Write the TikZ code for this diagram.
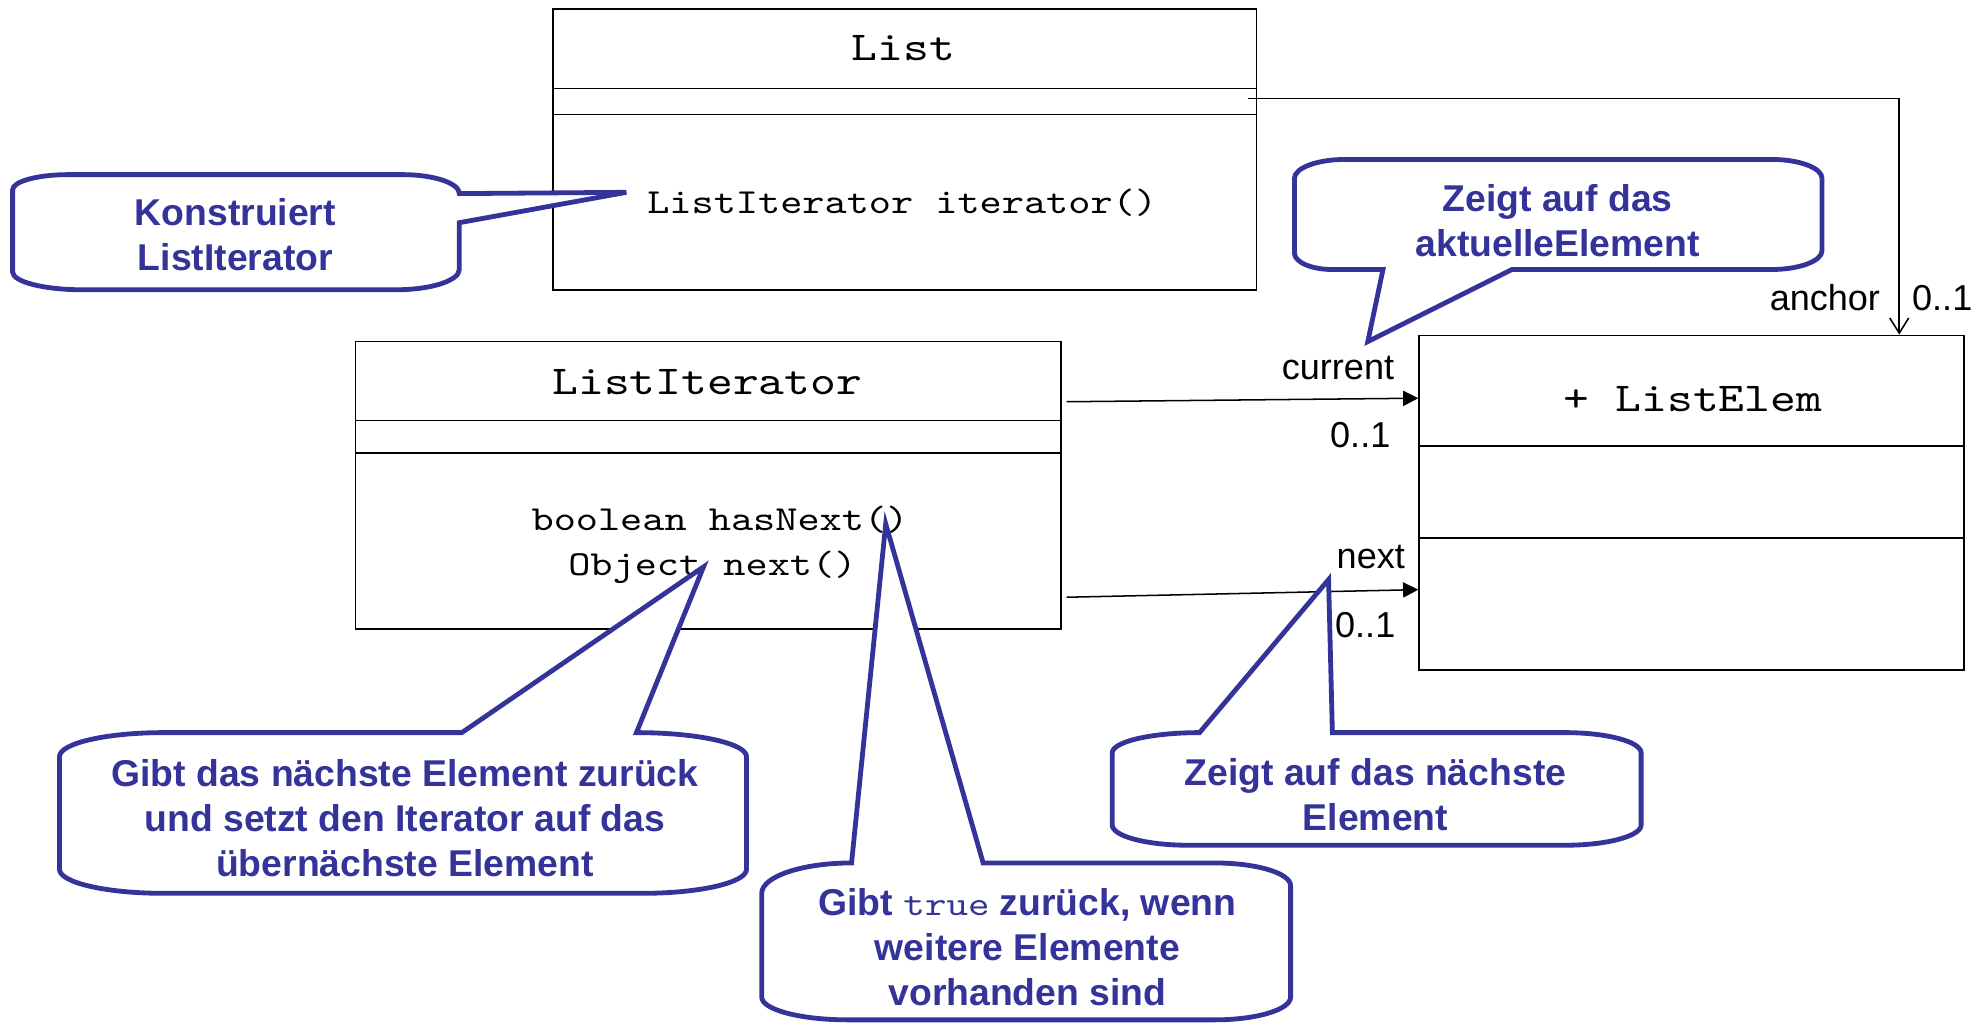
\documentclass[tikz,border=0pt]{standalone}
\usepackage{fontspec}
\setmainfont{Liberation Sans}
% a light typewriter face, widened to Courier proportions
\newfontfamily\monofont{lmmono10-regular.otf}[FakeStretch=1.2]
\usetikzlibrary{arrows.meta}
\definecolor{callblue}{RGB}{51,51,153}
\tikzset{
  umlbox/.style={draw=black, line width=1.2pt, inner sep=0pt},
  umlline/.style={draw=black, line width=1.2pt},
  umltitle/.style={font=\monofont\fontsize{32.4}{38}\selectfont, inner sep=0pt, anchor=base},
  umlmember/.style={font=\monofont\fontsize{27.8}{35.5}\selectfont, inner sep=0pt, anchor=base},
  rolelabel/.style={font=\fontsize{28.5}{34}\selectfont, inner sep=0pt},
  assoc/.style={draw=black, line width=1.2pt},
  callout/.style={draw=callblue, line width=3.8pt, fill=white, line join=miter},
  % the base anchor of a multi-line note sits on its last line
  callouttext/.style={text=callblue, font=\bfseries\fontsize{29.5}{35.5}\selectfont,
    align=center, inner sep=0pt, anchor=base},
}
\begin{document}
\begin{tikzpicture}[x=1pt, y=-1pt]
\useasboundingbox (0,0) rectangle (1568,809);

% --- classes ---
\node[umlbox, minimum width=556pt, minimum height=222pt] (list) at (715,118) {};
\draw[umlline] (list.west |- 0,70) -- (list.east |- 0,70);
\draw[umlline] (list.west |- 0,90.5) -- (list.east |- 0,90.5);
\node[umltitle] (listname) at (714,48) {List};
\node[umlmember] (listop) at (713,168.6) {ListIterator iterator()};

\node[umlbox, minimum width=557.5pt, minimum height=227pt] (iter) at (559.75,383.5) {};
\draw[umlline] (iter.west |- 0,332.5) -- (iter.east |- 0,332.5);
\draw[umlline] (iter.west |- 0,358) -- (iter.east |- 0,358);
\node[umltitle] (itername) at (559,311.5) {ListIterator};
\node[umlmember] (iterop1) at (569,419) {boolean hasNext()};
\node[umlmember] (iterop2) at (563,454.6) {Object next()};

\node[umlbox, minimum width=430.5pt, minimum height=264.5pt] (elem) at (1336.75,397.25) {};
\draw[umlline] (elem.west |- 0,352.5) -- (elem.east |- 0,352.5);
\draw[umlline] (elem.west |- 0,425) -- (elem.east |- 0,425);
\node[umltitle] (elemname) at (1338,325.6) {+ ListElem};

% --- associations ---
\coordinate (ancS) at (986,78);
\coordinate (ancB) at (1501,78);
\draw[assoc, -{Straight Barb[length=12pt,width=15pt]}] (ancS) -- (ancB) -- (ancB |- elem.north);
\coordinate (curS) at (843,317.5);
\draw[assoc, -{Triangle[length=12pt,width=12pt]}] (curS) -- (elem.west |- 0,314.7);
\coordinate (nxtS) at (843,472);
\draw[assoc, -{Triangle[length=12pt,width=12pt]}] (nxtS) -- (elem.west |- 0,466);

\node[rolelabel, anchor=base east] (lblanc) at (1486,245) {anchor};
\node[rolelabel, anchor=base west] (mulanc) at (1511,245) {0..1};
\node[rolelabel, anchor=base east] (lblcur) at (1102,300) {current};
\node[rolelabel, anchor=base east] (mulcur) at (1099,354) {0..1};
\node[rolelabel, anchor=base east] (lblnext) at (1110.5,449) {next};
\node[rolelabel, anchor=base west] (mulnext) at (1055,504) {0..1};

% --- notes ---
\draw[callout] (10,150) .. controls (10,143.4) and (29.7,138) .. (54,138)
  -- (318,138) .. controls (342.8,138) and (363,144.7) .. (363,153)
  -- (495,152) -- (363,176)
  -- (363,213) .. controls (363,221.8) and (340.6,229) .. (313,229)
  -- (65,229) .. controls (34.6,229) and (10,222.7) .. (10,215) -- cycle;
\node[callouttext] (note1) at (186,214) {Konstruiert\\ListIterator};

\draw[callout] (1023,141) .. controls (1023,132.7) and (1040.9,126) .. (1063,126)
  -- (1400,126) .. controls (1422.1,126) and (1440,132.7) .. (1440,141)
  -- (1440,198) .. controls (1440,206.3) and (1422.1,213) .. (1400,213)
  -- (1195,213) -- (1081,270) -- (1093,213)
  -- (1053,213) .. controls (1036.4,213) and (1023,207.2) .. (1023,200) -- cycle;
\node[callouttext] (note2) at (1231,202.4) {Zeigt auf das\\aktuelleElement};

\draw[callout] (47,598) .. controls (47,587.5) and (83.7,579) .. (129,579)
  -- (365,579) -- (556,448) -- (503,579)
  .. controls (551,579) and (590,587.5) .. (590,598)
  -- (590,687) .. controls (590,697.5) and (553.3,706) .. (508,706)
  -- (129,706) .. controls (83.7,706) and (47,697.5) .. (47,687) -- cycle;
\node[callouttext] (note3) at (320,692.9) {Gibt das nächste Element zurück\\und setzt den Iterator auf das\\übernächste Element};

\draw[callout] (602,706) .. controls (602,692.8) and (633.8,682) .. (673,682)
  -- (700,414) -- (777,682)
  -- (960,682) .. controls (993.1,682) and (1020,690.1) .. (1020,700)
  -- (1020,788) .. controls (1020,797.9) and (993.1,806) .. (960,806)
  -- (670,806) .. controls (632.5,806) and (602,797.9) .. (602,788) -- cycle;
\node[callouttext] (note4) at (812,794.3) {Gibt {\monofont\mdseries\fontsize{27}{35.5}\selectfont true} zurück, wenn\\weitere Elemente\\vorhanden sind};

\draw[callout] (879,595) .. controls (879,586.2) and (909.9,579) .. (948,579)
  -- (1050,458) -- (1053,579)
  -- (1237,579) .. controls (1270.1,579) and (1297,586.2) .. (1297,595)
  -- (1297,652) .. controls (1297,660.8) and (1270.1,668) .. (1237,668)
  -- (939,668) .. controls (905.9,668) and (879,660.8) .. (879,652) -- cycle;
\node[callouttext] (note5) at (1087,656) {Zeigt auf das nächste\\Element};
\end{tikzpicture}
\end{document}
